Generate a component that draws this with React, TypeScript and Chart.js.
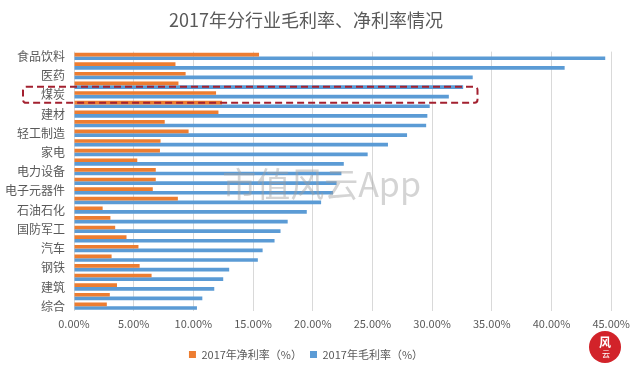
import React, { useEffect, useRef } from 'react';
import { Chart, registerables } from 'chart.js';

Chart.register(...registerables);

// 27 industries (CITIC), sorted by 2017 gross margin, top to bottom
const categories: string[] = [
  '食品饮料', '餐饮旅游', '医药', '计算机', '煤炭', '电力及公用事业', '建材', '传媒', '轻工制造',
  '房地产', '家电', '纺织服装', '电力设备', '机械', '电子元器件', '交通运输', '石油石化', '通信',
  '国防军工', '基础化工', '汽车', '农林牧渔', '钢铁', '有色金属', '建筑', '商贸零售', '综合',
];

// 2017年净利率（%）
const netMargin: number[] = [
  15.5, 8.5, 9.35, 8.75, 11.9, 12.4, 12.1, 7.6, 9.6,
  7.25, 7.2, 5.3, 6.85, 6.85, 6.6, 8.7, 2.4, 3.05,
  3.45, 4.4, 5.4, 3.15, 5.5, 6.5, 3.6, 3.0, 2.75,
];

// 2017年毛利率（%）
const grossMargin: number[] = [
  44.5, 41.1, 33.4, 32.6, 31.4, 29.8, 29.6, 29.5, 27.9,
  26.3, 24.6, 22.6, 22.4, 22.0, 21.7, 20.7, 19.5, 17.9,
  17.3, 16.8, 15.8, 15.4, 13.0, 12.5, 11.75, 10.75, 10.3,
];

const seriesNames: string[] = ['2017年净利率（%）', '2017年毛利率（%）'];
const xTickMin = 0;
const xTickMax = 45;
const xTickStep = 5;
const highlightCategory = '煤炭';
const highlightUntil = 33.8;
const titleText = '2017年分行业毛利率、净利率情况';
const watermarkText = '市值风云App';

const FONT = "'Noto Sans CJK SC', 'Noto Sans', sans-serif";

const decorPlugin = {
  id: 'decor',
  afterDatasetsDraw(chart: any) {
    const { ctx, chartArea, scales } = chart;
    const xs = scales.x;
    const ys = scales.y;
    ctx.save();
    // watermark
    ctx.font = `34px ${FONT}`;
    ctx.fillStyle = 'rgba(160,160,160,0.45)';
    ctx.textAlign = 'center';
    ctx.textBaseline = 'middle';
    ctx.fillText(
      watermarkText,
      (chartArea.left + chartArea.right) / 2 - 21,
      (chartArea.top + chartArea.bottom) / 2 + 3
    );
    // highlight dashed rectangle
    const idx = categories.indexOf(highlightCategory);
    const cy = ys.getPixelForValue(idx);
    const half = (ys.getPixelForValue(1) - ys.getPixelForValue(0)) * 0.83;
    const left = chartArea.left - 51;
    const right = xs.getPixelForValue(highlightUntil);
    ctx.strokeStyle = '#A3202F';
    ctx.lineWidth = 2;
    ctx.setLineDash([7, 4]);
    ctx.beginPath();
    const r = 3;
    const top = cy - half;
    const bottom = cy + half;
    ctx.moveTo(left + r, top);
    ctx.lineTo(right - r, top);
    ctx.arcTo(right, top, right, top + r, r);
    ctx.lineTo(right, bottom - r);
    ctx.arcTo(right, bottom, right - r, bottom, r);
    ctx.lineTo(left + r, bottom);
    ctx.arcTo(left, bottom, left, bottom - r, r);
    ctx.lineTo(left, top + r);
    ctx.arcTo(left, top, left + r, top, r);
    ctx.stroke();
    ctx.setLineDash([]);
    // logo (bottom right)
    const lx = chart.width - 31;
    const ly = chart.height - 24;
    ctx.fillStyle = '#D2232A';
    ctx.beginPath();
    ctx.arc(lx, ly, 16, 0, Math.PI * 2);
    ctx.fill();
    ctx.fillStyle = '#FFFFFF';
    ctx.font = `bold 12px ${FONT}`;
    ctx.fillText('风', lx, ly - 5);
    ctx.font = `8px ${FONT}`;
    ctx.fillText('云', lx + 1, ly + 7);
    ctx.restore();
  },
};

export default function App() {
  const canvasRef = useRef<HTMLCanvasElement | null>(null);

  useEffect(() => {
    if (!canvasRef.current) return;
    const chart = new Chart(canvasRef.current, {
      type: 'bar',
      data: {
        labels: categories,
        datasets: [
          {
            label: seriesNames[0],
            data: netMargin,
            backgroundColor: '#ED7D31',
            barPercentage: 1,
            categoryPercentage: 0.76,
          },
          {
            label: seriesNames[1],
            data: grossMargin,
            backgroundColor: '#5B9BD5',
            barPercentage: 1,
            categoryPercentage: 0.76,
          },
        ],
      },
      options: {
        indexAxis: 'y',
        responsive: false,
        animation: false,
        devicePixelRatio: 1,
        layout: { padding: { left: 0, right: 24, top: 0, bottom: 1 } },
        plugins: {
          title: {
            display: true,
            text: titleText,
            color: '#595959',
            font: { family: FONT, size: 18, weight: 'normal' },
            padding: { top: 9, bottom: 21 },
          },
          legend: {
            position: 'bottom',
            labels: {
              boxWidth: 7,
              boxHeight: 7,
              padding: 8,
              color: '#595959',
              font: { family: FONT, size: 11 },
            },
          },
          tooltip: { enabled: false },
        },
        scales: {
          x: {
            min: xTickMin,
            max: xTickMax,
            ticks: {
              stepSize: xTickStep,
              color: '#595959',
              padding: 6,
              font: { family: FONT, size: 11 },
              callback: (v: any) => Number(v).toFixed(2) + '%',
            },
            grid: { color: '#D9D9D9', drawTicks: false },
            border: { display: false },
            afterFit: (scale: any) => {
              scale.height = 30;
            },
          },
          y: {
            ticks: {
              autoSkip: false,
              color: '#595959',
              padding: 9,
              font: { family: FONT, size: 12 },
              callback: (_v: any, i: number) => (i % 2 === 0 ? categories[i] : ''),
            },
            grid: { display: false, drawTicks: false },
            border: { display: false },
            afterFit: (scale: any) => {
              scale.width = 74;
            },
          },
        },
      },
      plugins: [decorPlugin],
    } as any);
    return () => chart.destroy();
  }, []);

  return (
    <div style={{ position: 'fixed', left: 0, top: 0, width: 636, height: 371, background: '#fff' }}>
      <canvas ref={canvasRef} width={636} height={371} style={{ display: 'block' }} />
    </div>
  );
}
